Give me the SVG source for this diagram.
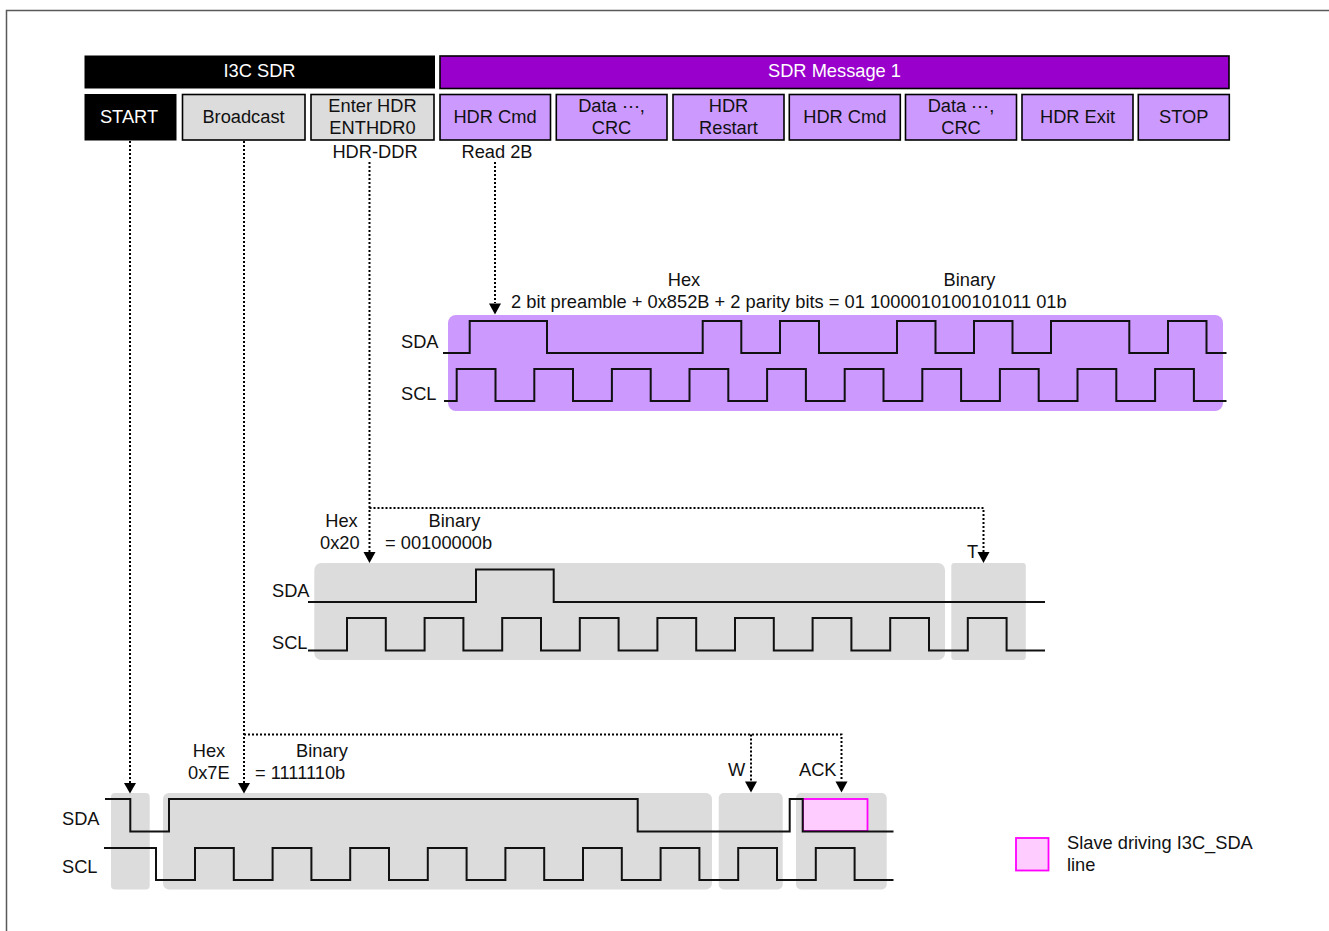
<svg xmlns="http://www.w3.org/2000/svg" width="1329" height="931" viewBox="0 0 1329 931">
<style>
text{font-family:"Liberation Sans",Arial,sans-serif;font-size:18.27px;fill:#111}
.m{text-anchor:middle}
.w{fill:#fff}
.box{stroke:#000;stroke-width:1.600}
.k{fill:#000}
.g{fill:#dcdcdc}
.p{fill:#cc99ff}
.v{fill:#9900cc}
.wave{fill:none;stroke:#111;stroke-width:2}
.dot{fill:none;stroke:#000;stroke-width:2;stroke-dasharray:2 2}
.slave{fill:#ffccff;stroke:#ff00ff;stroke-width:1.800}
</style>
<path d="M6.500 931V10.500H1329" fill="none" stroke="#595959" stroke-width="1.500"/>

<g id="lanes">
<rect class="p" x="448" y="315" width="775" height="96" rx="8"/>
<rect class="g" x="314.300" y="563" width="630.700" height="97" rx="7"/>
<rect class="g" x="951.300" y="563" width="74.500" height="97" rx="3"/>
<rect class="g" x="111" y="793" width="38.700" height="96.500" rx="4"/>
<rect class="g" x="163" y="793" width="549" height="96.500" rx="6"/>
<rect class="g" x="718.700" y="793" width="64" height="96.500" rx="5"/>
<rect class="g" x="796" y="793" width="90.700" height="96.500" rx="5"/>
</g>

<g id="node-i3c-sdr"><rect class="k" x="84.500" y="55.500" width="350.500" height="33"/><text class="m w" x="259.500" y="77">I3C SDR</text></g>
<g id="node-sdr-message"><rect class="v box" x="440" y="56" width="789" height="32.500"/><text class="m w" x="834.500" y="77">SDR Message 1</text></g>
<g id="node-start"><rect class="k" x="84.500" y="94" width="92" height="46.500"/><text class="m w" x="129" y="123">START</text></g>
<g id="node-broadcast"><rect class="g box" x="182.500" y="94.500" width="122.500" height="45.500"/><text class="m" x="243.500" y="123">Broadcast</text></g>
<g id="node-enter-hdr"><rect class="g box" x="311" y="94.500" width="123" height="45.500"/><text class="m" x="372.500" y="112">Enter HDR</text><text class="m" x="372.500" y="134">ENTHDR0</text></g>
<g id="node-hdr-cmd-1"><rect class="p box" x="440" y="94.500" width="110.500" height="45.500"/><text class="m" x="495" y="123">HDR Cmd</text></g>
<g id="node-data-1"><rect class="p box" x="556.300" y="94.500" width="110.700" height="45.500"/><text class="m" x="611.500" y="112">Data ⋯,</text><text class="m" x="611.500" y="134">CRC</text></g>
<g id="node-hdr-restart"><rect class="p box" x="673" y="94.500" width="111" height="45.500"/><text class="m" x="728.500" y="112">HDR</text><text class="m" x="728.500" y="134">Restart</text></g>
<g id="node-hdr-cmd-2"><rect class="p box" x="789.300" y="94.500" width="111" height="45.500"/><text class="m" x="844.800" y="123">HDR Cmd</text></g>
<g id="node-data-2"><rect class="p box" x="905.500" y="94.500" width="111" height="45.500"/><text class="m" x="961" y="112">Data ⋯,</text><text class="m" x="961" y="134">CRC</text></g>
<g id="node-hdr-exit"><rect class="p box" x="1022" y="94.500" width="111" height="45.500"/><text class="m" x="1077.500" y="123">HDR Exit</text></g>
<g id="node-stop"><rect class="p box" x="1138.300" y="94.500" width="91" height="45.500"/><text class="m" x="1183.800" y="123">STOP</text></g>

<g id="labels">
<text class="m" x="375" y="158">HDR-DDR</text>
<text class="m" x="497" y="158">Read 2B</text>
<text class="m" x="684" y="286">Hex</text>
<text class="m" x="969.500" y="286">Binary</text>
<text x="511" y="308">2 bit preamble + 0x852B + 2 parity bits = 01 1000010100101011 01b</text>
<text x="401" y="348">SDA</text>
<text x="401" y="400">SCL</text>
<text class="m" x="341.500" y="527">Hex</text>
<text x="320" y="549">0x20</text>
<text class="m" x="454.500" y="527">Binary</text>
<text x="385" y="549">= 00100000b</text>
<text x="272" y="597">SDA</text>
<text x="272" y="649">SCL</text>
<text x="967" y="558">T</text>
<text class="m" x="209" y="757">Hex</text>
<text x="188" y="779">0x7E</text>
<text class="m" x="322" y="757">Binary</text>
<text x="255" y="779">= 1111110b</text>
<text x="62" y="825">SDA</text>
<text x="62" y="873">SCL</text>
<text x="728" y="776">W</text>
<text x="799" y="776">ACK</text>
</g>

<g id="waveforms">
<path class="wave" d="M443 353H469.700V321H547V353H702.700V321H741.300V353H780V321H819V353H897V321H935.500V353H974V321H1012.500V353H1051V321H1129.300V353H1168V321H1206.500V353H1226.500"/>
<path class="wave" d="M444 401H456.700V369H495.500V401H534.300V369H573V401H611.900V369H650.700V401H689.500V369H728.300V401H767.100V369H805.900V401H844.700V369H883.500V401H922.300V369H961.100V401H999.900V369H1038.700V401H1077.500V369H1116.300V401H1155.100V369H1193.900V401H1226.500"/>
<path class="wave" d="M308 602H476V569.500H553.700V602H1045"/>
<path class="wave" d="M308 650.500H347V618H385.800V650.500H424.600V618H463.400V650.500H502.200V618H541V650.500H579.800V618H618.600V650.500H657.400V618H696.200V650.500H735V618H773.800V650.500H812.600V618H851.400V650.500H890.200V618H929V650.500H967.800V618H1006.600V650.500H1045"/>
<rect id="slave-ack" class="slave" x="803" y="799" width="64.500" height="32"/>
<path class="wave" d="M105 799H130.300V831.500H169V799H637.700V831.500H789.700V799H802.700V831.500H893.500"/>
<path class="wave" d="M104 848H156V880H195V848H233.800V880H272.600V848H311.400V880H350.200V848H389V880H427.800V848H466.600V880H505.400V848H544.200V880H583V848H621.800V880H660.600V848H699.400V880H738.200V848H777V880H815.800V848H854.600V880H893.500"/>
</g>

<g id="connectors">
<path class="dot" d="M130 141V783"/>
<path class="dot" d="M244 141V783"/>
<path class="dot" d="M244 734.500H841.500V781"/>
<path class="dot" d="M751 734.500V781"/>
<path class="dot" d="M369.500 162V552"/>
<path class="dot" d="M369.500 508H983.500V552"/>
<path class="dot" d="M495 162V303"/>
<path d="M124 783H136L130 793.500Z"/>
<path d="M238 783H250L244 793.500Z"/>
<path d="M745 781.500H757L751 792.500Z"/>
<path d="M835.500 781.500H847.500L841.500 792.500Z"/>
<path d="M363.500 552H375.500L369.500 563Z"/>
<path d="M977.500 552H989.500L983.500 563Z"/>
<path d="M489 303.500H501L495 314.500Z"/>
</g>

<g id="legend">
<rect class="slave" x="1016" y="838" width="32.500" height="32.500"/>
<text x="1067" y="849">Slave driving I3C_SDA</text>
<text x="1067" y="871">line</text>
</g>
</svg>
